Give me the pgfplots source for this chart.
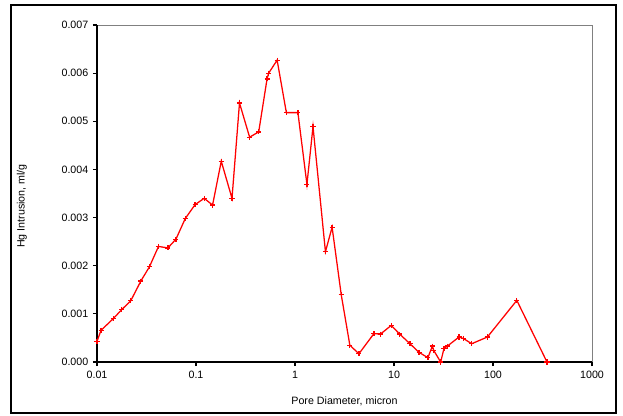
\documentclass[border=0pt]{standalone}
\usepackage{fontspec}
\setmainfont{Liberation Sans}
\usepackage{pgfplots}
\pgfplotsset{compat=1.18}

\begin{document}
\begin{tikzpicture}
\useasboundingbox (0,0) rectangle (467.25pt,311.25pt);
\draw[line width=1.5pt] (8.25pt,1.5pt) rectangle (462pt,307.5pt);
\begin{axis}[
  at={(72.75pt,39.75pt)}, anchor=south west,
  scale only axis, width=371.25pt, height=252.75pt,
  xmode=log, xmin=0.01, xmax=1000,
  ymin=0, ymax=0.007,
  xtick={0.01,0.1,1,10,100,1000},
  xticklabels={0.01,0.1,1,10,100,1000},
  ytick={0,0.001,0.002,0.003,0.004,0.005,0.006,0.007},
  scaled y ticks=false,
  yticklabel style={/pgf/number format/fixed,/pgf/number format/precision=3,/pgf/number format/fixed zerofill},
  /pgf/number format/assume math mode=true,
  minor x tick num=0, xminorticks=false,
  xtick pos=bottom, ytick pos=left,
  tick align=outside, major tick length=3pt,
  tick style={black, line width=0.8pt},
  axis line style={draw=none},
  every tick label/.style={font=\fontsize{8}{9.5}\selectfont},
  label style={font=\fontsize{8}{9.5}\selectfont},
  xlabel={Pore Diameter, micron},
  ylabel={Hg Intrusion, ml/g},
  xlabel style={at={(axis description cs:0.5,-0.116)}, anchor=center},
  ylabel style={at={(axis description cs:-0.152,0.463)}, anchor=center},
  clip=false,
]
\draw[gray, line width=0.6pt] (rel axis cs:0,1) -- (rel axis cs:1,1) -- (rel axis cs:1,0);
\draw[black, line width=1.1pt] (rel axis cs:0,1) -- (rel axis cs:0,0) -- (rel axis cs:1,0);
\addplot[red, line width=0.95pt, mark=+, mark size=1.9pt] coordinates {
(0.01,0.00043) (0.011,0.00066) (0.0146,0.0009) (0.0178,0.00109)
(0.0219,0.00127) (0.0277,0.00168) (0.0339,0.00198) (0.0418,0.0024)
(0.052,0.00237) (0.0627,0.00255) (0.0779,0.00298) (0.098,0.00327)
(0.121,0.0034) (0.147,0.00326) (0.18,0.00417) (0.231,0.0034)
(0.275,0.00538) (0.348,0.00467) (0.43,0.00478) (0.522,0.00588)
(0.542,0.0060) (0.66,0.00627) (0.818,0.00518) (1.07,0.00518)
(1.32,0.00369) (1.52,0.00489) (2.03,0.00229) (2.37,0.0028)
(2.93,0.0014) (3.58,0.00035) (4.42,0.00017) (6.27,0.00059)
(7.3,0.00058) (9.38,0.00076) (11.4,0.00058) (14.5,0.00038)
(17.9,0.0002) (22,0.00009) (24.4,0.00033) (25.2,0.00024)
(29.6,0) (32,0.00028) (34.6,0.00033) (45.4,0.00052)
(50,0.00049) (61,0.00038) (87.9,0.00052) (174,0.00128) (351,0)
};
\end{axis}
\end{tikzpicture}
\end{document}
